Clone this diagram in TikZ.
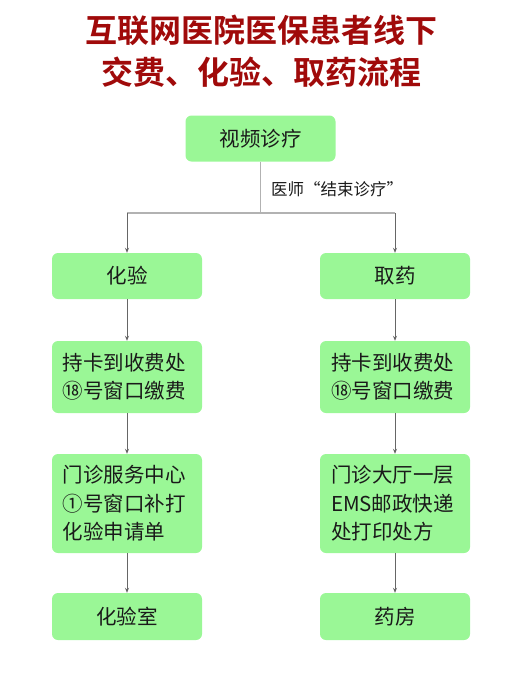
\documentclass[tikz,border=0pt]{standalone}
\usepackage{fontspec}
\setmainfont{Noto Sans CJK SC}
\newfontfamily\titlefont{Noto Sans CJK SC Bold}
\usetikzlibrary{arrows.meta}
\definecolor{boxgreen}{HTML}{9AF796}
\definecolor{titlered}{HTML}{A00A0A}
\definecolor{txt}{HTML}{1A1A1A}
\tikzset{
  box/.style={fill=boxgreen, rounded corners=6pt, minimum width=150pt, text=txt,
    font=\fontsize{20.5}{28.5}\selectfont, inner sep=0pt, anchor=center},
  mbox/.style={box, align=left, text width=128pt, inner xsep=11pt},
  arr/.style={draw=gray!80!black, line width=0.7pt, -{Stealth[length=5pt,width=4pt]}},
  trunk/.style={draw=gray!60, line width=1.1pt},
}
\begin{document}
\begin{tikzpicture}[x=1pt,y=-1pt]
\useasboundingbox (0,0) rectangle (523,673);
\node[font=\titlefont\fontsize{32}{42}\selectfont, text=titlered, align=center] (title) at (261.5,51)
  {互联网医院医保患者线下\\交费、化验、取药流程};
\node[box, minimum height=46pt] (top) at (260.5,138.5) {视频诊疗};
\node[box, minimum height=46pt] (la) at (127,276) {化验};
\node[box, minimum height=46pt] (ra) at (395,276) {取药};
\node[mbox, minimum height=72pt] (lb) at (127,377) {持卡到收费处\\⑱号窗口缴费};
\node[mbox, minimum height=72pt] (rb) at (395,377) {持卡到收费处\\⑱号窗口缴费};
\node[mbox, minimum height=99pt] (lc) at (127,503.5) {门诊服务中心\\①号窗口补打\\化验申请单};
\node[mbox, minimum height=99pt] (rc) at (395,503.5) {门诊大厅一层\\EMS邮政快递\\处打印处方};
\node[box, minimum height=47pt] (ld) at (127,616.5) {化验室};
\node[box, minimum height=47pt] (rd) at (395,616.5) {药房};
\coordinate (split) at (260.5,213);
\coordinate (lsplit) at (127,213);
\coordinate (rsplit) at (395,213);
\node[anchor=west, text=txt, font=\fontsize{16.5}{20}\selectfont, inner sep=0pt] (lbl) at (271,189) {医师“结束诊疗”};
\draw[trunk] (top.south) -- (split);
\draw[trunk] (lsplit) -- (rsplit);
\draw[arr] (lsplit) -- (la.north);
\draw[arr] (rsplit) -- (ra.north);
\draw[arr] (la) -- (lb);
\draw[arr] (lb) -- (lc);
\draw[arr] (lc) -- (ld);
\draw[arr] (ra) -- (rb);
\draw[arr] (rb) -- (rc);
\draw[arr] (rc) -- (rd);
\end{tikzpicture}
\end{document}
